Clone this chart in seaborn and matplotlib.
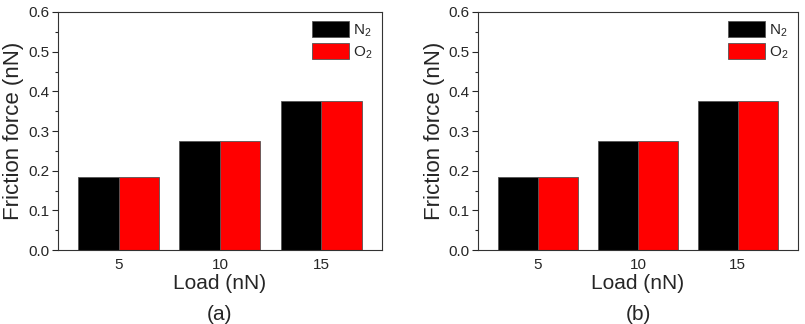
import pandas as pd
import seaborn as sns
import matplotlib.pyplot as plt
from matplotlib.ticker import MultipleLocator

# Données
loads = ['5', '10', '15']
gases = ['N$_2$', 'O$_2$']
friction_a_n2 = [0.183, 0.275, 0.375]
friction_a_o2 = [0.183, 0.275, 0.375]
friction_b_n2 = [0.183, 0.275, 0.375]
friction_b_o2 = [0.183, 0.275, 0.375]
panel_labels = ['(a)', '(b)']

sns.set_style('ticks')
plt.rcParams['font.family'] = ['Liberation Sans', 'DejaVu Sans']
plt.rcParams['mathtext.fontset'] = 'custom'
plt.rcParams['mathtext.rm'] = 'Liberation Sans'
plt.rcParams['mathtext.default'] = 'regular'


def make_df(n2, o2):
    return pd.DataFrame({
        'load': loads * 2,
        'gas': [gases[0]] * 3 + [gases[1]] * 3,
        'friction': n2 + o2,
    })


fig = plt.figure(figsize=(8.05, 3.24), dpi=100)
ax_a = fig.add_axes([0.072, 0.228, 0.4025, 0.735])
ax_b = fig.add_axes([0.594, 0.228, 0.397, 0.735])

panels = [
    (ax_a, make_df(friction_a_n2, friction_a_o2), panel_labels[0]),
    (ax_b, make_df(friction_b_n2, friction_b_o2), panel_labels[1]),
]

for ax, df, lab in panels:
    sns.barplot(data=df, x='load', y='friction', hue='gas', ax=ax,
                palette=['#000000', '#ff0000'], width=0.8,
                edgecolor='#555555', linewidth=0.6, saturation=1)
    ax.set_xlim(-0.6, 2.6)
    ax.set_ylim(0, 0.6)
    ax.yaxis.set_major_locator(MultipleLocator(0.1))
    ax.yaxis.set_minor_locator(MultipleLocator(0.05))
    ax.yaxis.set_major_formatter(plt.FormatStrFormatter('%.1f'))
    ax.tick_params(axis='y', which='major', length=4, width=0.8, labelsize=11, pad=2)
    ax.tick_params(axis='y', which='minor', length=2, width=0.8)
    ax.tick_params(axis='x', length=0, labelsize=11, pad=6)
    for s in ax.spines.values():
        s.set_linewidth(0.8)
        s.set_color('#333333')
    ax.set_xlabel('Load (nN)', fontsize=15, labelpad=1)
    ax.set_ylabel('Friction force (nN)', fontsize=16, labelpad=3)
    ax.legend(loc='upper right', frameon=False, fontsize=11, title=None,
              handlelength=2.4, handleheight=1.2, handletextpad=0.3,
              labelspacing=0.3, borderaxespad=0.2)
    pos = ax.get_position()
    fig.text((pos.x0 + pos.x1) / 2, 0.0, lab, ha='center', va='bottom', fontsize=15)

fig.savefig('out.png', dpi=100)
